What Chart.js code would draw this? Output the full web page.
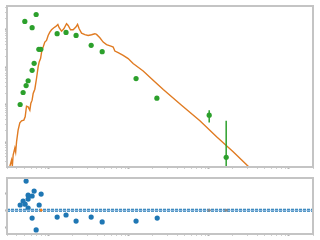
<!DOCTYPE html>
<html lang="en">
<head>
    <meta charset="UTF-8">
    <title>Spectrum fit</title>
    <script src="https://cdn.jsdelivr.net/npm/chart.js"></script>
    <style>
        body { margin: 0; background: #fff; }
        canvas { position: absolute; left: 0; }
        #topChart { top: 0; }
        #resChart { top: 172px; }
    </style>
</head>
<body>
    <canvas id="topChart" width="320" height="172"></canvas>
    <canvas id="resChart" width="320" height="68"></canvas>

    <script>
        // model curve (orange)
        const modelX = [0.321,0.342,0.350,0.358,0.376,0.385,0.395,0.413,0.434,0.456,0.487,0.506,0.526,0.551,0.579,0.596,0.618,0.637,0.668,0.702,
                        0.735,0.757,0.788,0.818,0.849,0.891,0.936,0.980,1.029,1.081,1.155,1.223,1.296,1.345,1.442,1.540,1.664,1.742,1.867,2.013,
                        2.176,2.285,2.392,2.563,2.818,3.097,3.418,3.758,3.946,4.341,4.774,5.26,6.08,6.37,6.68,7.35,8.49,9.80,11.3,15.1,
                        20.1,26.9,45.5,77.2,124.8,201,319,434];
        const modelY = [0.2,0.331,0.229,0.450,0.692,0.541,1.02,2.09,3.27,3.70,3.86,4.73,9.12,8.74,7.13,10.96,13.2,19.9,25.9,50.9,
                        102,138,171,284,348,473,525,713,873,1012,1145,1240,1402,1145,929,1076,1462,1318,1012,1012,
                        1188,1402,1076,822,745,713,745,792,759,619,473,403,363,348,272,247,209,171,126,79.7,
                        45.0,25.4,9.70,3.70,1.38,0.551,0.211,0.110];

        // measured points (green)
        const dataX = [0.438,0.477,0.501,0.520,0.551,0.618,0.618,0.655,0.694,0.750,0.794,1.27,1.64,2.19,3.38,4.64,12.3,22.4,100.9,164.5];
        const dataY = [10.1,21.2,1686,32.5,43.6,83.2,1145,128,2589,302,302,792,857,713,386,262,50,14.9,5.25,0.391];

        // error bars
        const errX = [100.9, 164.5];
        const errLo = [3.35, 0.05];
        const errHi = [7.13, 3.70];

        // residuals (blue)
        const resX = [0.438,0.477,0.505,0.520,0.551,0.551,0.551,0.618,0.655,0.801,0.757,0.618,0.694,1.27,1.64,2.19,3.38,4.64,12.3,22.6];
        const resY = [0.31,0.54,0.36,1.72,0.89,0.66,0.13,0.84,1.13,0.95,0.31,-0.46,-1.16,-0.40,-0.28,-0.64,-0.40,-0.69,-0.64,-0.46];
        const resZeroX = [100.9, 164.5];

        const xRange = [0.3, 2000];
        const yRange = [0.215, 4365];
        const resRange = [-1.4, 1.9];
        const resTicks = [-1, 0, 1];

        const AXIS = '#c4c4c4';

        function logTicks(min, max) {
            const out = [];
            for (let e = -2; e <= 4; e++) {
                for (let m = 1; m <= 9; m++) {
                    const v = m * Math.pow(10, e);
                    if (v >= min && v <= max) out.push(+v.toPrecision(3));
                }
            }
            return out;
        }
        const isMajor = v => Math.abs(Math.log10(Math.abs(v) || 1) % 1) < 1e-6;

        function axis(min, max, type, size, isX, ticks) {
            return {
                type: type,
                min: min,
                max: max,
                afterBuildTicks: s => { s.ticks = ticks.map(v => ({ value: v })); },
                afterFit: s => { if (isX) s.height = size; else s.width = size; },
                ticks: { display: false },
                grid: {
                    drawOnChartArea: false,
                    drawTicks: true,
                    tickLength: 2,
                    tickWidth: c => (c.tick && isMajor(c.tick.value) ? 2 : 1),
                    tickColor: c => (c.tick && isMajor(c.tick.value) ? '#b4b4b4' : '#cfcfcf')
                },
                border: { color: AXIS, width: 2 }
            };
        }

        const frame = {
            id: 'frame',
            afterDraw(chart) {
                const a = chart.chartArea, ctx = chart.ctx;
                ctx.save();
                ctx.strokeStyle = AXIS;
                ctx.lineWidth = 2;
                ctx.strokeRect(a.left, a.top, a.right - a.left, a.bottom - a.top);
                ctx.restore();
            }
        };

        const errorBars = {
            id: 'errorBars',
            afterDatasetsDraw(chart) {
                const a = chart.chartArea, ctx = chart.ctx;
                const xs = chart.scales.x, ys = chart.scales.y;
                ctx.save();
                ctx.beginPath();
                ctx.rect(a.left, a.top, a.right - a.left, a.bottom - a.top);
                ctx.clip();
                ctx.strokeStyle = '#2ca02c';
                ctx.lineWidth = 1.5;
                errX.forEach((x, i) => {
                    const px = xs.getPixelForValue(x);
                    ctx.beginPath();
                    ctx.moveTo(px, ys.getPixelForValue(errLo[i]));
                    ctx.lineTo(px, ys.getPixelForValue(errHi[i]));
                    ctx.stroke();
                });
                ctx.restore();
            }
        };

        const xTicks = logTicks(xRange[0], xRange[1]);

        new Chart(document.getElementById('topChart'), {
            type: 'scatter',
            data: {
                datasets: [
                    {
                        data: dataX.map((x, i) => ({ x: x, y: dataY[i] })),
                        backgroundColor: '#2ca02c',
                        pointRadius: 2.6,
                        borderWidth: 0,
                        order: 0
                    },
                    {
                        data: modelX.map((x, i) => ({ x: x, y: modelY[i] })),
                        showLine: true,
                        borderColor: '#e07b22',
                        borderWidth: 1.4,
                        pointRadius: 0,
                        order: 1
                    }
                ]
            },
            options: {
                responsive: false,
                animation: false,
                layout: { padding: { top: 6, right: 7, left: 0, bottom: 0 } },
                plugins: { legend: { display: false }, tooltip: { enabled: false } },
                scales: {
                    x: axis(xRange[0], xRange[1], 'logarithmic', 5, true, xTicks),
                    y: axis(yRange[0], yRange[1], 'logarithmic', 7, false, logTicks(yRange[0], yRange[1]))
                }
            },
            plugins: [errorBars, frame]
        });

        new Chart(document.getElementById('resChart'), {
            type: 'scatter',
            data: {
                datasets: [
                    {
                        data: resX.map((x, i) => ({ x: x, y: resY[i] })),
                        backgroundColor: '#1f77b4',
                        pointRadius: 2.6,
                        borderWidth: 0,
                        order: 2
                    },
                    {
                        data: resZeroX.map(x => ({ x: x, y: 0 })),
                        backgroundColor: '#8a8a8a',
                        pointRadius: 1.6,
                        borderWidth: 0,
                        order: 0
                    },
                    {
                        data: [{ x: 0.8, y: 0 }],
                        backgroundColor: '#ff7f0e',
                        pointRadius: 1.4,
                        borderWidth: 0,
                        order: 0
                    },
                    {
                        data: xRange.map(x => ({ x: x, y: 0 })),
                        showLine: true,
                        borderColor: '#a9cbe8',
                        borderWidth: 1,
                        pointRadius: 0,
                        order: 1
                    },
                    {
                        data: xRange.map(x => ({ x: x, y: 0 })),
                        showLine: true,
                        borderColor: '#1f77b4',
                        borderWidth: 3,
                        borderDash: [3, 1],
                        pointRadius: 0,
                        order: 1.5
                    }
                ]
            },
            options: {
                responsive: false,
                animation: false,
                layout: { padding: { top: 6, right: 7, left: 0, bottom: 0 } },
                plugins: { legend: { display: false }, tooltip: { enabled: false } },
                scales: {
                    x: axis(xRange[0], xRange[1], 'logarithmic', 6, true, xTicks),
                    y: axis(resRange[0], resRange[1], 'linear', 7, false, resTicks)
                }
            },
            plugins: [frame]
        });
    </script>
</body>
</html>
